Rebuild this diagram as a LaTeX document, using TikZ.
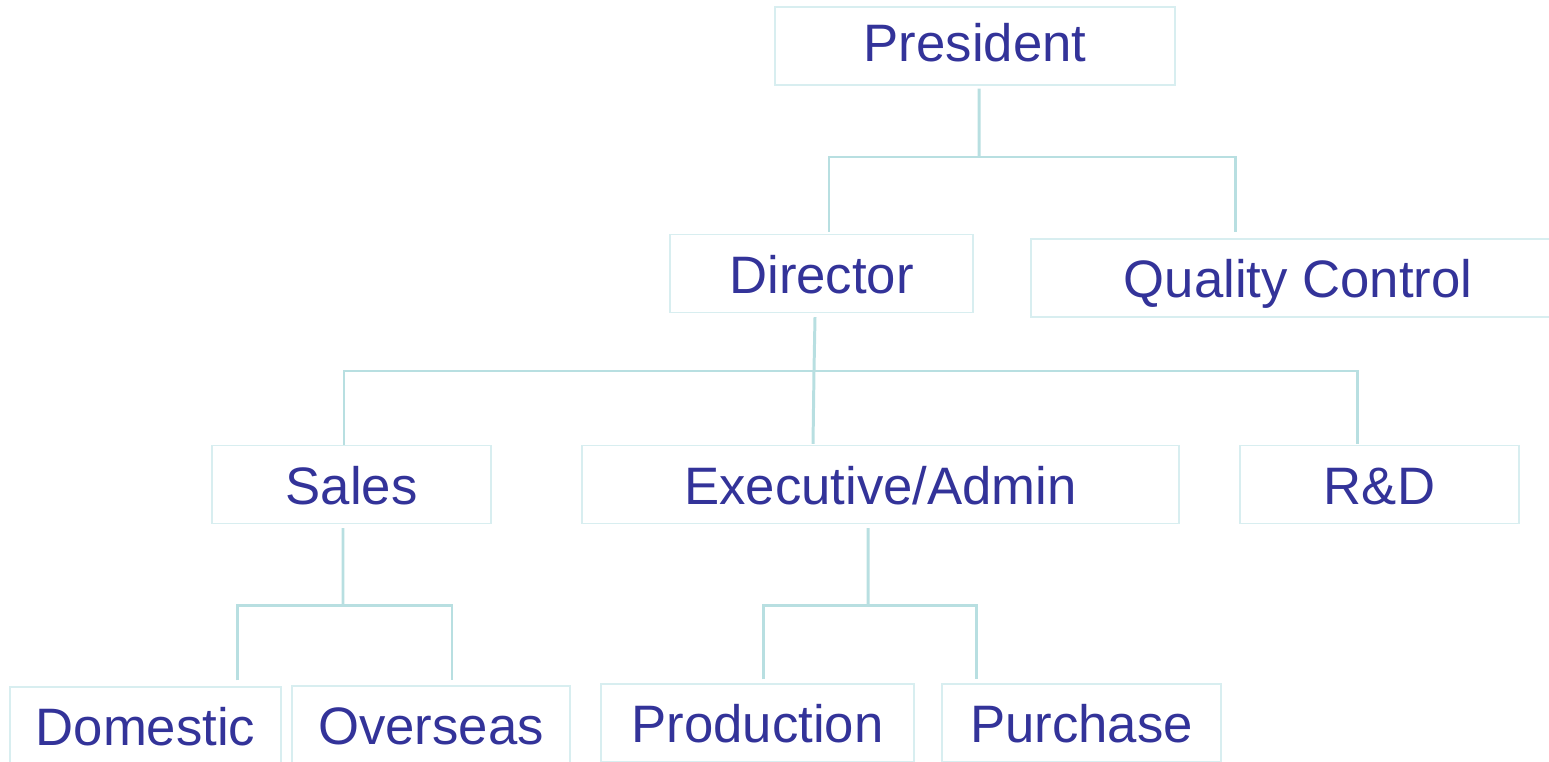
\documentclass[tikz,border=0pt]{standalone}
\usepackage{fontspec}
\setmainfont{Liberation Sans}
\usepackage{tikz}

\definecolor{boxtext}{HTML}{333399}
\definecolor{boxline}{HTML}{D8EEF0}
\definecolor{linkline}{HTML}{B8DFE1}

\begin{document}
\begin{tikzpicture}[x=0.02cm, y=-0.02cm, every node/.style={draw=boxline, line width=0.8pt, text=boxtext, font=\fontsize{30}{36}\selectfont, inner sep=0pt, text height=0.78cm, text depth=0cm, minimum height=1.56cm}, link/.style={draw=linkline, line width=1.7pt}]
			\useasboundingbox (0,0) rectangle (1549,761);
			\node[minimum width=8cm, text depth=0.16cm] (pres) at (975,46){President};
			\node[minimum width=6.06cm] (dir) at (821.5,273.5){Director};
			\node[minimum width=10.68cm] (qc) at (1298,278){Quality Control};
			\node[minimum width=5.58cm] (sales) at (351.5,484.5){Sales};
			\node[minimum width=11.94cm] (exec) at (880.5,484.5){Executive/Admin};
			\node[minimum width=5.58cm] (rnd) at (1379.5,484.5){R\&D};
			\node[minimum width=5.42cm] (dom) at (145.5,726){Domestic};
			\node[minimum width=5.56cm] (ovs) at (431,725){Overseas};
			\node[minimum width=6.26cm] (prod) at (757.5,723){Production};
			\node[minimum width=5.58cm] (pur) at (1081.5,723){Purchase};
			
			\coordinate (p1) at (979,157);
			\coordinate (d1) at (814,371);
			\coordinate (s1) at (343,605);
			\coordinate (e1) at (868,605);
			
			\path[link] ([xshift=0.08cm,yshift=-0.06cm]pres.south) -- (p1);
			\path[link] ([xshift=0.15cm,yshift=0.04cm]dir.north) |- (p1) -| ([xshift=-1.26cm,yshift=0.12cm]qc.north);
			\path[link] ([xshift=-0.13cm,yshift=-0.08cm]dir.south) -- (d1);
			\path[link] ([xshift=-0.15cm]sales.north) |- (d1) -| ([xshift=-0.45cm,yshift=0.02cm]rnd.north);
			\path[link] ([xshift=-1.35cm,yshift=0.02cm]exec.north) -- (d1);
			\path[link] ([xshift=-0.17cm,yshift=-0.08cm]sales.south) -- (s1);
			\path[link] ([xshift=1.85cm,yshift=0.12cm]dom.north) |- (s1) -| ([xshift=0.42cm,yshift=0.1cm]ovs.north);
			\path[link] ([xshift=-0.25cm,yshift=-0.08cm]exec.south) -- (e1);
			\path[link] ([xshift=0.11cm,yshift=0.08cm]prod.north) |- (e1) -| ([xshift=-2.11cm,yshift=0.08cm]pur.north);
			\end{tikzpicture}
\end{document}
